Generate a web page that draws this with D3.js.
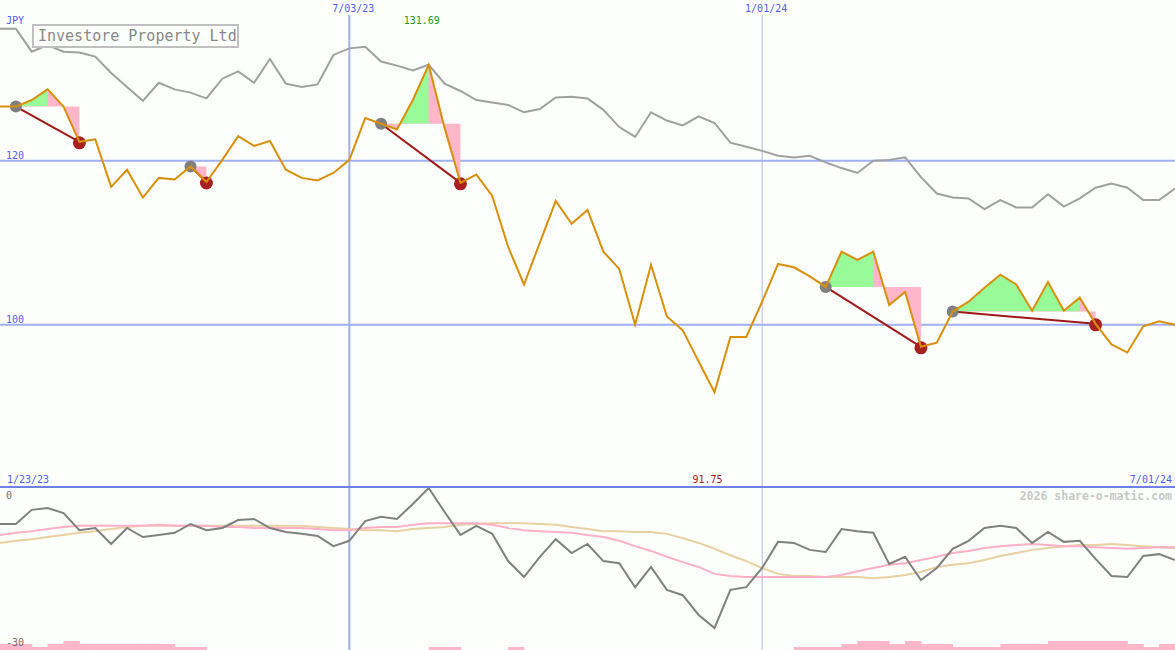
<!DOCTYPE html>
<html>
<head>
<meta charset="utf-8">
<script src="https://cdn.jsdelivr.net/npm/d3@7"></script>
<style>
  body { margin: 0; background: #fcfffc; }
  svg { display: block; }
</style>
</head>
<body>
<div id="chart"></div>
<script>
/////////////////////////Data////////////////////////////

// Weekly closes (JPY), first week 1/30/23, last week 7/01/24
let price = [
  126.6, 126.6, 127.4, 128.7, 126.6, 122.3, 122.6, 116.8, 118.9, 115.5,
  117.9, 117.7, 119.3, 117.4, 120.1, 123.0, 121.8, 122.4, 118.9, 117.9,
  117.6, 118.5, 120.1, 125.2, 124.5, 123.8, 127.4, 131.69, 124.0, 117.3,
  118.3, 115.7, 109.5, 104.9, 110.0, 115.1, 112.3, 114.0, 108.9, 106.8,
  100.0, 107.3, 101.0, 99.3, 95.5, 91.75, 98.5, 98.5, 102.8, 107.4,
  107.0, 105.9, 104.6, 108.9, 107.9, 108.9, 102.4, 104.0, 97.3, 97.8,
  101.6, 102.8, 104.5, 106.1, 104.9, 101.7, 105.2, 101.7, 103.3, 100.1,
  97.6, 96.6, 99.8, 100.4, 100.0
];

// Market comparison line, on the same scale
let market = [
  136.1, 136.1, 133.3, 134.1, 133.3, 133.2, 132.7, 130.7, 129.0, 127.3,
  129.5, 128.7, 128.3, 127.6, 130.0, 130.9, 129.5, 132.4, 129.4, 129.0,
  129.3, 132.9, 133.7, 133.9, 132.1, 131.6, 131.0, 131.7, 129.4, 128.5,
  127.4, 127.1, 126.8, 125.9, 126.3, 127.7, 127.8, 127.6, 126.2, 124.1,
  122.9, 125.9, 124.9, 124.3, 125.4, 124.6, 122.2, 121.7, 121.2, 120.6,
  120.4, 120.6, 119.8, 119.1, 118.5, 120.0, 120.1, 120.4, 118.0, 116.0,
  115.5, 115.4, 114.1, 115.2, 114.3, 114.3, 115.9, 114.4, 115.4, 116.7,
  117.2, 116.7, 115.2, 115.2, 116.6
];

// Lower panel: oscillator and its two averages
let oscillator = [
  -6.75, -6.75, -4.1, -3.75, -4.7, -7.9, -7.5, -10.5, -7.5, -9.2,
  -8.8, -8.4, -6.75, -7.9, -7.5, -6.0, -5.8, -7.5, -8.25, -8.6,
  -9.0, -10.9, -9.9, -6.2, -5.4, -5.8, -3.0, 0, -4.5, -8.8,
  -7.1, -8.6, -13.7, -16.7, -12.9, -9.6, -12.2, -10.5, -13.7, -14.1,
  -18.6, -14.8, -19.1, -20.1, -23.8, -26.25, -19.1, -18.6, -15.0, -10.1,
  -10.3, -11.6, -12.0, -7.7, -8.1, -8.4, -14.25, -12.9, -17.25, -15.0,
  -11.4, -9.9, -7.5, -7.1, -7.5, -10.3, -8.25, -10.1, -9.9, -13.3,
  -16.5, -16.7, -12.75, -12.4, -13.5
];

let oscFast = [
  -8.8, -8.4, -8.1, -7.7, -7.3, -7.1, -7.1, -7.1, -7.1, -7.1,
  -6.9, -7.1, -7.1, -7.1, -7.3, -7.3, -7.5, -7.5, -7.5, -7.5,
  -7.7, -7.9, -7.9, -7.5, -7.3, -7.3, -6.9, -6.6, -6.6, -6.6,
  -6.6, -6.9, -7.5, -7.9, -8.1, -8.25, -8.4, -8.8, -9.2, -9.9,
  -10.9, -11.8, -12.9, -13.9, -14.8, -16.1, -16.5, -16.7, -16.7, -16.7,
  -16.7, -16.7, -16.7, -16.3, -15.6, -15.0, -14.4, -14.1, -13.5, -12.9,
  -12.2, -11.8, -11.25, -10.9, -10.7, -10.5, -10.7, -10.9, -10.9, -11.1,
  -11.25, -11.4, -11.25, -11.1, -11.1
];

let oscSlow = [
  -10.3, -9.9, -9.6, -9.2, -8.8, -8.4, -8.1, -7.7, -7.3, -7.1,
  -7.1, -7.1, -7.1, -7.1, -7.1, -7.1, -7.1, -7.1, -7.1, -7.1,
  -7.3, -7.5, -7.7, -7.9, -7.9, -8.1, -7.7, -7.5, -7.3, -6.9,
  -6.75, -6.6, -6.6, -6.6, -6.75, -6.9, -7.3, -7.7, -8.1, -8.1,
  -8.25, -8.25, -8.6, -9.4, -10.3, -11.4, -12.6, -13.7, -15.0, -16.1,
  -16.5, -16.5, -16.7, -16.7, -16.7, -16.9, -16.7, -16.3, -15.75, -14.8,
  -14.4, -14.1, -13.5, -12.75, -12.2, -11.6, -11.25, -10.9, -10.7, -10.7,
  -10.5, -10.7, -10.9, -11.1, -11.25
];

// Volume, relative level per week
let volume = [
  2, 2, 1, 2, 3, 2, 2, 2, 2, 2,
  2, 1, 1, 0, 0, 0, 0, 0, 0, 0,
  0, 0, 0, 0, 0, 0, 0, 1, 1, 0,
  0, 0, 1, 0, 0, 0, 0, 0, 0, 0,
  0, 0, 0, 0, 0, 0, 0, 0, 0, 0,
  1, 1, 1, 2, 3, 3, 2, 3, 2, 2,
  1, 1, 1, 2, 2, 2, 3, 3, 3, 3,
  3, 2, 1, 2, 0
];

// Trade signals (week index): entry, last rising week, exit
let signalStart = [1, 12, 24, 52, 60];
let signalTurn = [3, 12, 27, 55, 68];
let signalEnd = [5, 13, 29, 58, 69];

// Grid ticks
let priceTicks = [100, 120];
let dateTicks = [new Date(2023, 6, 3), new Date(2024, 0, 1)];
let dateTickLabels = ["7/03/23", "1/01/24"];

/////////////////////////Set Up Chart////////////////////////////

let svgWidth = 1175;
let svgHeight = 650;
let mainBottom = 487;
let font = "DejaVu Sans Mono, monospace";
let blue = "#5060f0";

let svg = d3.select("#chart")
  .append("svg")
  .attr("width", svgWidth)
  .attr("height", svgHeight);

svg.append("rect")
  .attr("width", svgWidth)
  .attr("height", svgHeight)
  .attr("fill", "#fcfffc");

let dates = d3.timeMonday.range(new Date(2023, 0, 30), new Date(2024, 6, 2));
let rows = dates.map((d, i) => ({
  date: d, price: price[i], market: market[i],
  osc: oscillator[i], fast: oscFast[i], slow: oscSlow[i], vol: volume[i]
}));

let xScale = d3.scaleTime()
  .domain([dates[0], dates[dates.length - 1]])
  .range([0, svgWidth]);

let yPrice = d3.scaleLinear().domain([80.2, 139.6]).range([mainBottom, 0]);
let yOsc = d3.scaleLinear().domain([-30, 0]).range([648, 488]);
let yVol = d3.scaleLinear().domain([0, 3]).range([svgHeight, 641]);

/////////////////////////Grid////////////////////////////

svg.selectAll(".hgrid")
  .data(priceTicks)
  .enter()
  .append("line")
  .attr("x1", 0).attr("x2", svgWidth)
  .attr("y1", d => yPrice(d)).attr("y2", d => yPrice(d))
  .attr("stroke", "#a0b0f0")
  .attr("stroke-width", 2);

svg.selectAll(".hlabel")
  .data(priceTicks)
  .enter()
  .append("text")
  .attr("x", 6)
  .attr("y", d => yPrice(d) - 2)
  .attr("font-family", font).attr("font-size", 10)
  .attr("fill", blue)
  .text(d => d);

svg.selectAll(".vgrid")
  .data(dateTicks)
  .enter()
  .append("line")
  .attr("x1", d => xScale(d)).attr("x2", d => xScale(d))
  .attr("y1", 15).attr("y2", svgHeight)
  .attr("stroke", (d, i) => i === 0 ? "#a0b0f0" : "#b4b8e0")
  .attr("stroke-width", (d, i) => i === 0 ? 2 : 1);

svg.selectAll(".vlabel")
  .data(dateTicks)
  .enter()
  .append("text")
  .attr("x", d => xScale(d) + 4)
  .attr("y", 12)
  .attr("text-anchor", "middle")
  .attr("font-family", font).attr("font-size", 10)
  .attr("fill", blue)
  .text((d, i) => dateTickLabels[i]);

/////////////////////////Volume////////////////////////////

svg.selectAll(".vol")
  .data(rows.slice(0, rows.length - 1))
  .enter()
  .append("rect")
  .attr("x", d => xScale(d.date))
  .attr("width", (d, i) => xScale(dates[i + 1]) - xScale(d.date) + 0.5)
  .attr("y", d => yVol(d.vol))
  .attr("height", d => yVol(0) - yVol(d.vol))
  .attr("fill", "#ffb6c8");

/////////////////////////Signal fills////////////////////////////

let defs = svg.append("defs");

signalStart.forEach((s, k) => {
  let t = signalTurn[k];
  let e = signalEnd[k];
  let base = yPrice(price[s]);
  let area = d3.area()
    .x(d => xScale(d.date))
    .y0(base)
    .y1(d => yPrice(d.price));

  svg.append("path")
    .datum(rows.slice(s, e + 1))
    .attr("d", area)
    .attr("fill", "#ffb6c8");

  if (t > s) {
    defs.append("clipPath")
      .attr("id", "up" + k)
      .append("rect")
      .attr("x", xScale(dates[s]))
      .attr("y", 0)
      .attr("width", xScale(dates[t]) - xScale(dates[s]))
      .attr("height", base);

    svg.append("path")
      .datum(rows.slice(s, t + 1))
      .attr("d", area)
      .attr("clip-path", "url(#up" + k + ")")
      .attr("fill", "#98fb98");
  }
});

/////////////////////////Lines////////////////////////////

let marketLine = d3.line().x(d => xScale(d.date)).y(d => yPrice(d.market));
svg.append("path")
  .datum(rows)
  .attr("d", marketLine)
  .attr("fill", "none")
  .attr("stroke", "#a0a0a0")
  .attr("stroke-width", 2);

// connectors between entry and exit
signalStart.forEach((s, k) => {
  let e = signalEnd[k];
  svg.append("line")
    .attr("x1", xScale(dates[s])).attr("y1", yPrice(price[s]))
    .attr("x2", xScale(dates[e])).attr("y2", yPrice(price[e]))
    .attr("stroke", "#a01818")
    .attr("stroke-width", 2);
});

svg.selectAll(".entry")
  .data(signalStart)
  .enter()
  .append("circle")
  .attr("cx", d => xScale(dates[d]))
  .attr("cy", d => yPrice(price[d]))
  .attr("r", 6)
  .attr("fill", "#808080");

svg.selectAll(".exit")
  .data(signalEnd)
  .enter()
  .append("circle")
  .attr("cx", d => xScale(dates[d]))
  .attr("cy", d => yPrice(price[d]) + 1)
  .attr("r", 6.5)
  .attr("fill", "#a82020");

let priceLine = d3.line().x(d => xScale(d.date)).y(d => yPrice(d.price));
svg.append("path")
  .datum(rows)
  .attr("d", priceLine)
  .attr("fill", "none")
  .attr("stroke", "#d8900a")
  .attr("stroke-width", 2);

/////////////////////////Lower panel////////////////////////////

let oscLines = [["slow", "#e8d0a0"], ["fast", "#ffb0c8"], ["osc", "#808080"]];
oscLines.forEach(([key, colour]) => {
  svg.append("path")
    .datum(rows)
    .attr("d", d3.line().x(d => xScale(d.date)).y(d => yOsc(d[key])))
    .attr("fill", "none")
    .attr("stroke", colour)
    .attr("stroke-width", 2);
});

svg.append("line")
  .attr("x1", 0).attr("x2", svgWidth)
  .attr("y1", mainBottom).attr("y2", mainBottom)
  .attr("stroke", "#7080e8")
  .attr("stroke-width", 2);

/////////////////////////Labels////////////////////////////

let maxIdx = d3.maxIndex(price);
let minIdx = d3.minIndex(price);

svg.append("text")
  .attr("x", xScale(dates[maxIdx]) - 7).attr("y", 24)
  .attr("text-anchor", "middle")
  .attr("font-family", font).attr("font-size", 10)
  .attr("fill", "#209a20")
  .text(price[maxIdx].toFixed(2));

svg.append("text")
  .attr("x", xScale(dates[minIdx]) - 7).attr("y", 483)
  .attr("text-anchor", "middle")
  .attr("font-family", font).attr("font-size", 10)
  .attr("fill", "#a01818")
  .text(price[minIdx].toFixed(2));

svg.append("text")
  .attr("x", 6).attr("y", 24)
  .attr("font-family", font).attr("font-size", 10)
  .attr("fill", blue)
  .text("JPY");

svg.append("text")
  .attr("x", 7).attr("y", 483)
  .attr("font-family", font).attr("font-size", 10)
  .attr("fill", blue)
  .text("1/23/23");

svg.append("text")
  .attr("x", 1172).attr("y", 483)
  .attr("text-anchor", "end")
  .attr("font-family", font).attr("font-size", 10)
  .attr("fill", blue)
  .text("7/01/24");

svg.append("text")
  .attr("x", 6).attr("y", 499)
  .attr("font-family", font).attr("font-size", 10)
  .attr("fill", "#707070")
  .text("0");

svg.append("text")
  .attr("x", 6).attr("y", 646)
  .attr("font-family", font).attr("font-size", 10)
  .attr("fill", "#707070")
  .text("-30");

svg.append("text")
  .attr("x", 1172).attr("y", 500)
  .attr("text-anchor", "end")
  .attr("font-family", font).attr("font-size", 11.5)
  .attr("font-weight", "bold")
  .attr("fill", "#c8c8c8")
  .text("2026 share-o-matic.com");

// title box
svg.append("rect")
  .attr("x", 33).attr("y", 25)
  .attr("width", 205).attr("height", 22)
  .attr("fill", "#fcfffc")
  .attr("stroke", "#c0c0c0")
  .attr("stroke-width", 2);

svg.append("text")
  .attr("x", 38).attr("y", 41)
  .attr("font-family", font).attr("font-size", 15)
  .attr("fill", "#888888")
  .text("Investore Property Ltd");
</script>
</body>
</html>
